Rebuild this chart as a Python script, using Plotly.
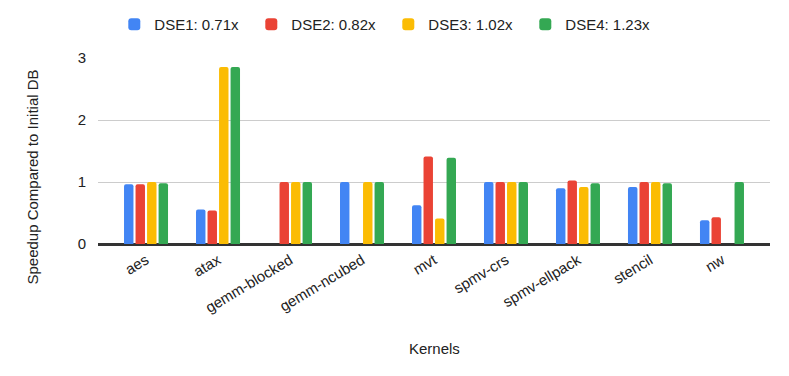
import plotly.graph_objects as go

kernels = ["aes", "atax", "gemm-blocked", "gemm-ncubed", "mvt", "spmv-crs",
           "spmv-ellpack", "stencil", "nw"]
series_names = ["DSE1: 0.71x", "DSE2: 0.82x", "DSE3: 1.02x", "DSE4: 1.23x"]
dse1 = [0.965, 0.555, None, 1.0, 0.625, 1.0, 0.90, 0.92, 0.385]
dse2 = [0.965, 0.54, 1.0, None, 1.41, 1.0, 1.025, 1.0, 0.43]
dse3 = [1.0, 2.855, 1.0, 1.0, 0.41, 1.0, 0.92, 1.0, None]
dse4 = [0.98, 2.855, 1.0, 1.0, 1.39, 1.0, 0.98, 0.98, 1.0]
colors = ["#4285F4", "#EA4335", "#FBBC04", "#34A853"]
y_ticks = [0, 1, 2, 3]

fig = go.Figure()
for name, vals, col in zip(series_names, [dse1, dse2, dse3, dse4], colors):
    fig.add_trace(go.Bar(x=kernels, y=vals, name=name, marker_color=col,
                         marker_line_width=0))

font_family = "Arial, Liberation Sans, sans-serif"
txt = "#222222"
fig.update_layout(
    width=789, height=376,
    margin=dict(l=90, r=27, t=50, b=140, autoexpand=False),
    plot_bgcolor="white", paper_bgcolor="white",
    barmode="group", bargap=0.36, bargroupgap=0.18,
    barcornerradius=2,
    font=dict(family=font_family, size=15, color=txt),
    legend=dict(orientation="h", xref="container", x=0.482, xanchor="center",
                yref="container", y=1.0, yanchor="top",
                entrywidth=92, font=dict(size=15, color=txt),
                itemwidth=30, traceorder="normal"),
    showlegend=True,
)
fig.update_xaxes(range=[-0.667, 8.667], tickangle=-31, showgrid=False, automargin=False,
                 showline=True, linecolor="#333333", linewidth=1.5,
                 tickfont=dict(size=15, color=txt))
fig.update_yaxes(range=[0, 3.0], tickvals=y_ticks, showgrid=True, gridcolor="#cccccc",
                 gridwidth=1, zeroline=True, zerolinecolor="#333333", zerolinewidth=1.5,
                 automargin=False,
                 tickfont=dict(size=15, color=txt), ticks="", ticklabelstandoff=11)
fig.add_annotation(text="Speedup Compared to Initial DB", textangle=-90,
                   xref="paper", yref="paper", x=-0.098, y=0.358,
                   xanchor="center", yanchor="middle",
                   showarrow=False, font=dict(size=15, color=txt))
fig.add_annotation(text="Kernels", xref="paper", yref="paper", x=0.5, y=-0.563,
                   xanchor="center", yanchor="middle",
                   showarrow=False, font=dict(size=15, color=txt))
fig.write_html("out.html")
